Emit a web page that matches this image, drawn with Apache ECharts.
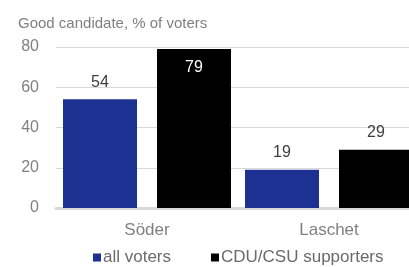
<!DOCTYPE html>
<html>
<head>
<meta charset="utf-8">
<script src="https://cdn.jsdelivr.net/npm/echarts@6/dist/echarts.min.js"></script>
<style>
  html, body { margin: 0; padding: 0; background: #fff; }
  #chart { width: 409px; height: 267px; }
</style>
</head>
<body>
<div id="chart"></div>
<script>
// data
var categories = ['Söder', 'Laschet']
var allVoters = [54, 19]
var cduSupporters = [79, 29]
var seriesNames = ['all voters', 'CDU/CSU supporters']

var chart = echarts.init(document.getElementById('chart'))
var font = 'Liberation Sans, Arial, sans-serif'

// the tall bar carries its label inside, in white
var cduData = cduSupporters.map(function (v) {
    if (v > 70) {
        return { value: v, label: { position: 'insideTop', distance: 11, color: '#ffffff' } }
    }
    return v
})

var option = {
    animation: false,
    title: {
        text: 'Good candidate, % of voters',
        left: 13,
        top: 11,
        textStyle: { color: '#7f7f7f', fontSize: 15, fontWeight: 'normal', fontFamily: font },
    },
    grid: { left: 56, right: -11, top: 47, bottom: 59, outerBoundsMode: 'none' },
    legend: {
        left: 88,
        top: 244,
        itemWidth: 8,
        itemHeight: 8,
        itemGap: 40,
        icon: 'rect',
        textStyle: { color: '#6a6a6a', fontSize: 17, fontFamily: font, padding: [0, 0, 0, -3] },
        data: seriesNames,
    },
    xAxis: {
        type: 'category',
        data: categories,
        axisLine: { lineStyle: { color: '#d9d9d9', width: 3 } },
        axisTick: { show: false },
        axisLabel: { color: '#808080', fontSize: 17, fontFamily: font, margin: 14 },
    },
    yAxis: {
        type: 'value',
        min: 0,
        max: 80,
        interval: 20,
        axisLine: { show: false },
        axisTick: { show: false },
        axisLabel: { color: '#808080', fontSize: 16, fontFamily: font, margin: 17 },
        splitLine: { lineStyle: { color: '#d9d9d9', width: 1 } },
    },
    series: [
        {
            name: seriesNames[0],
            type: 'bar',
            data: allVoters,
            barWidth: 74,
            barGap: '27%',
            itemStyle: { color: '#1c3191' },
            label: { show: true, position: 'top', distance: 9, color: '#404040', fontSize: 16, fontFamily: font },
        },
        {
            name: seriesNames[1],
            type: 'bar',
            data: cduData,
            barWidth: 74,
            barGap: '27%',
            itemStyle: { color: '#000000' },
            label: { show: true, position: 'top', distance: 9, color: '#404040', fontSize: 16, fontFamily: font },
        },
    ],
}
option && chart.setOption(option)
</script>
</body>
</html>
